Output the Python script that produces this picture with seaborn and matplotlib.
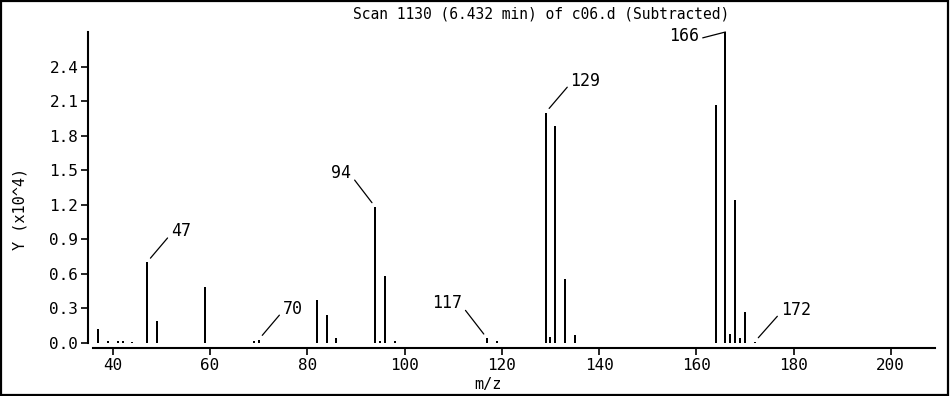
import matplotlib
matplotlib.use("Agg")
import matplotlib.pyplot as plt
from matplotlib.patches import Rectangle
import seaborn as sns
import pandas as pd

# ---- data (abundance in units of 10^4) ----
mz = [37, 39, 41, 42, 44, 47, 49, 59, 69, 70, 82, 84, 86, 94, 95, 96, 98,
      117, 119, 129, 130, 131, 133, 135, 164, 166, 167, 168, 169, 170, 172]
abundance = [0.12, 0.02, 0.015, 0.015, 0.01, 0.70, 0.19, 0.49, 0.02, 0.03,
             0.37, 0.24, 0.04, 1.18, 0.02, 0.58, 0.02, 0.04, 0.02, 2.00, 0.05,
             1.88, 0.56, 0.07, 2.07, 2.70, 0.08, 1.24, 0.04, 0.27, 0.01]
label_mz = [47, 70, 94, 117, 129, 166, 172]
x_ticks = [40, 60, 80, 100, 120, 140, 160, 180, 200]
y_ticks = [0.0, 0.3, 0.6, 0.9, 1.2, 1.5, 1.8, 2.1, 2.4]
title = "Scan 1130 (6.432 min) of c06.d (Subtracted)"

df = pd.DataFrame({"mz": mz, "abundance": abundance})

sns.set_theme(style="white")
plt.rcParams["font.family"] = ["DejaVu Sans Mono", "DejaVu Sans"]

W, H = 950, 396
fig = plt.figure(figsize=(W / 100, H / 100), dpi=100)
fig.patch.set_facecolor("white")
fig.add_artist(Rectangle((0.001, 0.002), 0.997, 0.995, transform=fig.transFigure,
                         fill=False, edgecolor="black", linewidth=1.6))

left, right, top, bottom = 88, 935, 32, 348
ax = fig.add_axes([left / W, 1 - bottom / H, (right - left) / W, (bottom - top) / H])
ax.set_facecolor("white")

sns.barplot(data=df, x="mz", y="abundance", native_scale=True, width=0.42,
            color="black", errorbar=None, linewidth=0, saturation=1, ax=ax)
for p in ax.patches:
    p.set_antialiased(False)

ax.set_xlim(34.9, 209.1)
ax.set_ylim(-0.043, 2.70)

for s in ["top", "right"]:
    ax.spines[s].set_visible(False)
ax.spines["left"].set_bounds(0, 2.70)
ax.spines["bottom"].set_bounds(35.9, 209.1)
for s in ["left", "bottom"]:
    ax.spines[s].set_color("black")
    ax.spines[s].set_linewidth(1.5)

ax.set_xticks(x_ticks)
ax.set_xticklabels([str(v) for v in x_ticks])
ax.set_yticks(y_ticks)
ax.set_yticklabels([f"{v:.1f}" for v in y_ticks])
ax.tick_params(axis="both", which="both", direction="out", length=5, width=1.2,
               color="black", labelsize=11.5, labelcolor="black", pad=2,
               left=True, bottom=True)
ax.grid(False)
ax.set_xlabel("")
ax.set_ylabel("")

fig.text(488 / W, 1 - 385 / H, "m/z", ha="center", va="center", fontsize=11, color="black")
fig.text(20 / W, 1 - 209 / H, "Y (x10^4)", ha="center", va="center", rotation=90,
         fontsize=11, color="black")
fig.text(541 / W, 1 - 14 / H, title, ha="center", va="center", fontsize=10.5, color="black")

# peak labels with leader lines
offsets = {47: (24, 31, "left"), 70: (24, 31, "left"), 94: (-24, 34, "right"),
           117: (-25, 35, "right"), 129: (25, 32, "left"), 166: (-26, -4, "right"),
           172: (26, 32, "left")}
ab_map = dict(zip(mz, abundance))
for m in label_mz:
    dx, dy, ha = offsets[m]
    rel = (0.0, 0.35) if ha == "left" else (1.0, 0.35)
    ax.annotate(str(m), xy=(m, ab_map[m]), xycoords="data",
                xytext=(dx, dy), textcoords="offset pixels",
                ha=ha, va="center", fontsize=12, color="black",
                arrowprops=dict(arrowstyle="-", color="black", lw=0.9,
                                shrinkA=0, shrinkB=4 if m != 166 else 0,
                                relpos=rel))

fig.savefig("out.png", dpi=100, facecolor="white")
